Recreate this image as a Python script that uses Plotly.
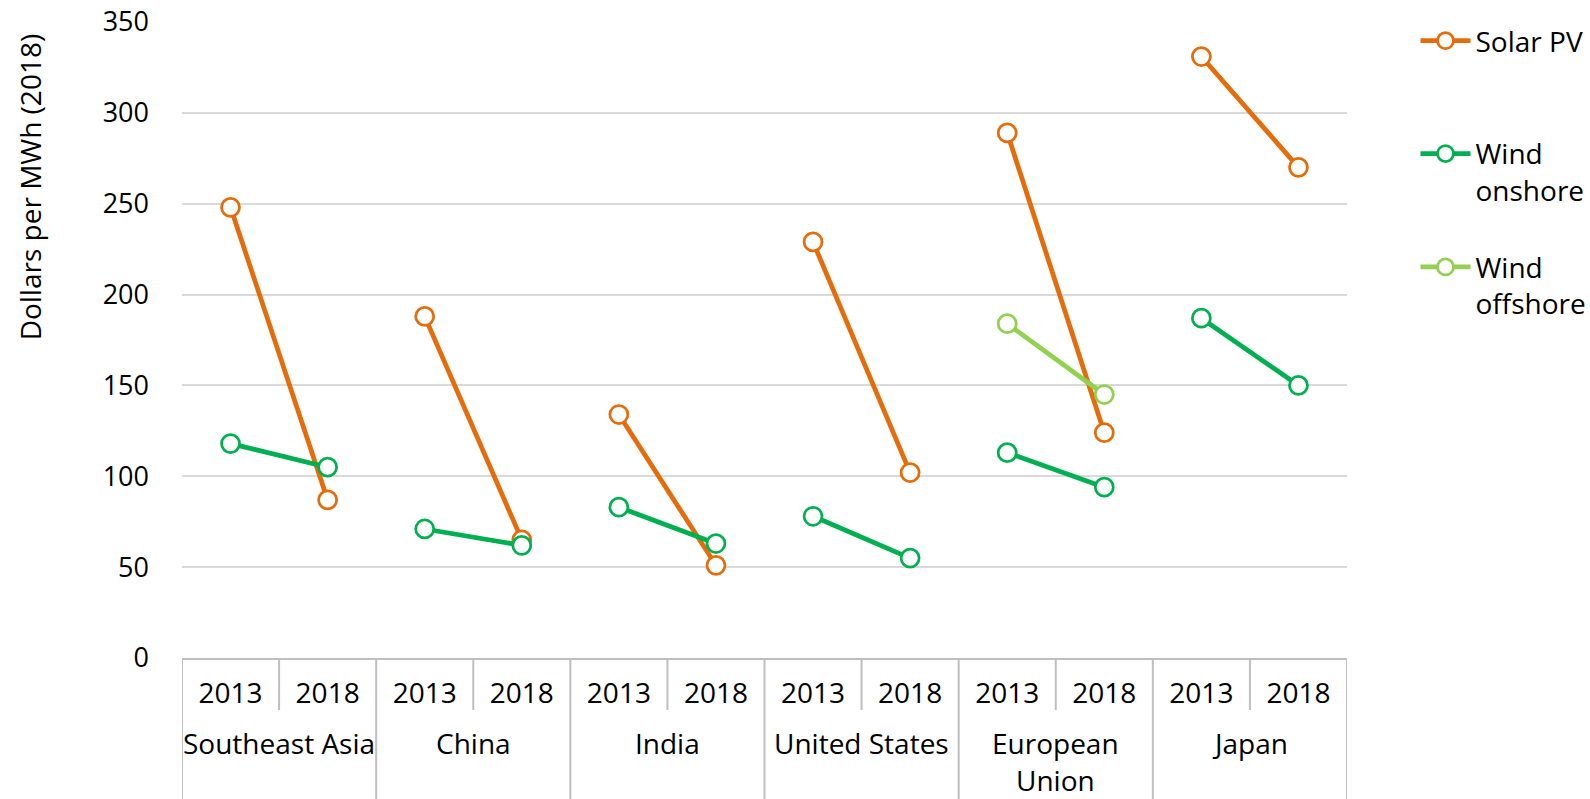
import plotly.graph_objects as go

regions = ["Southeast Asia", "China", "India", "United States", "European<br>Union", "Japan"]
years = ["2013", "2018"]

solar_pv = [[248, 87], [188, 65], [134, 51], [229, 102], [289, 124], [331, 270]]
wind_onshore = [[118, 105], [71, 62], [83, 63], [78, 55], [113, 94], [187, 150]]
wind_offshore_regions = ["European<br>Union"]
wind_offshore = [[184, 145]]

ORANGE = "#E46C0A"
GREEN = "#00B050"
LIGHTGREEN = "#92D050"
GRIDGRAY = "#d9d9d9"
AXISGRAY = "#bfbfbf"
FONT = "Open Sans"

W, H = 1590, 799
ML, MR, MT, MB = 182, 243, 22, 141
PH = H - MT - MB

ny = len(years)


def xpos(region):
    k = regions.index(region)
    return [k * ny + j for j in range(ny)]


def py(px_below_axis):
    """paper y for a distance in px below the x axis"""
    return -px_below_axis / PH


fig = go.Figure()


def add_series(name, color, regs, vals, legend):
    for i, (r, v) in enumerate(zip(regs, vals)):
        fig.add_trace(go.Scatter(
            x=xpos(r),
            y=v,
            mode="lines+markers",
            name=name,
            legendgroup=name,
            showlegend=(i == 0),
            legend=legend,
            line=dict(color=color, width=4.75),
            marker=dict(symbol="circle", size=18, color="white",
                        line=dict(color=color, width=2.75)),
            customdata=[r.replace("<br>", " ")] * ny,
            text=years,
            hovertemplate="%{customdata} %{text}: %{y}<extra>" + name.replace("<br>", " ") + "</extra>",
        ))


add_series("Solar PV", ORANGE, regions, solar_pv, "legend")
add_series("Wind<br>onshore", GREEN, regions, wind_onshore, "legend2")
add_series("Wind<br>offshore", LIGHTGREEN, wind_offshore_regions, wind_offshore, "legend3")

n = len(regions) * ny
shapes = []
annotations = []
# long separators at region boundaries, short ones between years
for b in range(n + 1):
    long_line = (b % ny == 0)
    shapes.append(dict(type="line", xref="x", yref="paper",
                       x0=b - 0.5, x1=b - 0.5, y0=0,
                       y1=py(150) if long_line else py(52),
                       line=dict(color=AXISGRAY, width=2)))
for k, r in enumerate(regions):
    for i, line in enumerate(r.split("<br>")):
        annotations.append(dict(text=line, xref="x", yref="paper",
                                x=k * ny + (ny - 1) / 2, y=py(85 + 37 * i),
                                xanchor="center", yanchor="middle", showarrow=False,
                                font=dict(family=FONT, size=28, color="#000")))
# y-axis title (placed high, as in the reference)
annotations.append(dict(text="Dollars per MWh (2018)", xref="paper", yref="paper",
                        x=(30 - ML) / (W - ML - MR), y=0.740,
                        xanchor="center", yanchor="middle",
                        textangle=-90, showarrow=False,
                        font=dict(family=FONT, size=28, color="#000")))

legend_common = dict(font=dict(family=FONT, size=28, color="#000"),
                     bgcolor="rgba(0,0,0,0)", xanchor="left", yanchor="top",
                     valign="top", tracegroupgap=0, itemwidth=50)

fig.update_layout(
    width=W, height=H,
    margin=dict(l=ML, r=MR, t=MT, b=MB, autoexpand=False),
    paper_bgcolor="white", plot_bgcolor="white",
    font=dict(family=FONT, size=27, color="#000"),
    shapes=shapes,
    annotations=annotations,
    legend=dict(x=1.0588, y=1.0094, **legend_common),
    legend2=dict(x=1.0588, y=0.832, **legend_common),
    legend3=dict(x=1.0588, y=0.6537, **legend_common),
    xaxis=dict(
        range=[-0.5, n - 0.5],
        tickmode="array",
        tickvals=list(range(n)),
        ticktext=years * len(regions),
        showline=True, linecolor=AXISGRAY, linewidth=2,
        showgrid=False, zeroline=False, ticks="",
        tickfont=dict(family=FONT, size=28, color="#000"),
        ticklabelstandoff=9,
    ),
    yaxis=dict(
        range=[0, 350], dtick=50, tick0=0,
        showgrid=True, gridcolor=GRIDGRAY, gridwidth=2,
        zeroline=False, showline=False, ticks="",
        tickfont=dict(family=FONT, size=27, color="#000"),
        ticklabelstandoff=32,
    ),
)

fig.write_html("out.html",
               config={"displayModeBar": False},
               post_script="document.body.style.margin='0px';"
                           "document.body.style.overflow='hidden';")
